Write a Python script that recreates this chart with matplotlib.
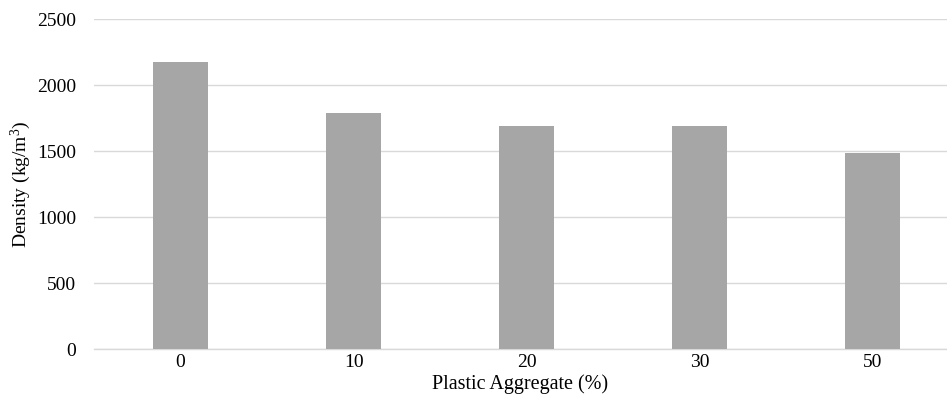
import matplotlib
matplotlib.use("Agg")
import matplotlib.pyplot as plt

categories = ["0", "10", "20", "30", "50"]
density = [2172, 1790, 1692, 1692, 1486]
yticks = [0, 500, 1000, 1500, 2000, 2500]

plt.rcParams['font.family'] = ['Liberation Serif', 'DejaVu Serif']
plt.rcParams['mathtext.fontset'] = 'custom'
plt.rcParams['mathtext.rm'] = 'Liberation Serif'
plt.rcParams['mathtext.it'] = 'Liberation Serif:italic'
plt.rcParams['mathtext.default'] = 'rm'

W, H = 947, 397
fig = plt.figure(figsize=(W/100, H/100), dpi=100)
ax = fig.add_axes([94/W, (H-349)/H, (947-94)/W, (349-19)/H])

x = list(range(len(categories)))
ax.bar(x, density, width=0.318, color='#a6a6a6', zorder=3)

ax.set_ylim(0, 2500)
ax.set_xlim(-0.5, 4.43)
ax.set_yticks(yticks)
ax.set_xticks(x)
ax.set_xticklabels(categories)
ax.grid(axis='y', color='#d9d9d9', linewidth=1, zorder=0)
for s in ['top', 'right', 'left']:
    ax.spines[s].set_visible(False)
ax.spines['bottom'].set_color('#d9d9d9')
ax.spines['bottom'].set_linewidth(1)
ax.tick_params(axis='both', length=0, labelsize=14, colors='#000000')
ax.tick_params(axis='y', pad=13)
ax.tick_params(axis='x', pad=3.5)
ax.set_xlabel("Plastic Aggregate (%)", fontsize=14.5, labelpad=2.5)
ax.set_ylabel("Density (kg/m$^{3}$)", fontsize=14, labelpad=3)

fig.savefig("out.png", dpi=100)
